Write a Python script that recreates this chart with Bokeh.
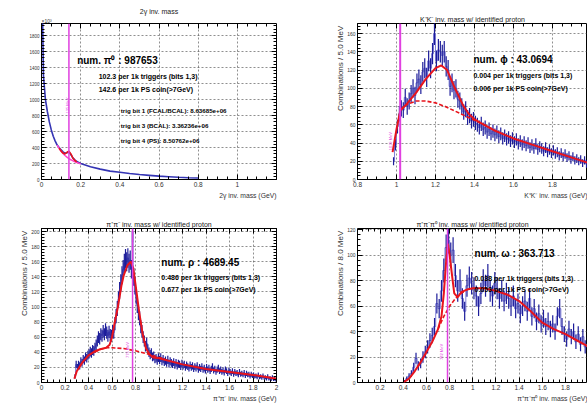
import numpy as np
from bokeh.plotting import figure
from bokeh.models import (LinearAxis, SingleIntervalTicker, PrintfTickFormatter,
                          Label, Span, Range1d, Title)
from bokeh.layouts import row, column
from bokeh.embed import file_html
from bokeh.resources import INLINE

FONT = "Liberation Sans"

# ---------------- Panel 1 : 2 gamma invariant mass (x10^3 counts) ----------------
P1_X = [0.005, 0.01, 0.02, 0.03, 0.04, 0.05, 0.06, 0.07, 0.08, 0.09, 0.10, 0.11, 0.12,
        0.13, 0.14, 0.15, 0.16, 0.17, 0.18, 0.20, 0.25, 0.30, 0.35, 0.40, 0.45, 0.50,
        0.55, 0.60, 0.65, 0.70, 0.75, 0.80]
P1_Y = [2100, 1300, 1000, 850, 720, 620, 540, 480, 430, 400, 370, 345, 330,
        335, 345, 310, 270, 245, 225, 200, 160, 130, 105, 90, 75, 62,
        52, 42, 35, 28, 22, 18]
P1_FIT_X = [0.09, 0.10, 0.11, 0.12, 0.13, 0.14, 0.15, 0.16, 0.17, 0.18]
P1_FIT_Y = [390, 355, 330, 320, 340, 355, 320, 270, 240, 220]
P1_BG_X = [0.08, 0.09, 0.10, 0.11, 0.12, 0.13, 0.14, 0.15, 0.16, 0.18, 0.20]
P1_BG_Y = [430, 390, 355, 325, 300, 280, 262, 247, 235, 212, 195]

# ---------------- Panel 2 : K+K- ----------------
P2_BIN_LO, P2_BIN_W = 0.98, 0.01
P2_COUNTS = [20, 38, 58, 72, 78, 76, 90, 80, 86, 94, 100, 92, 106, 110, 104, 118, 122, 112,
             130, 122, 138, 160, 130, 142, 140, 136, 140, 124, 120, 102, 106, 98, 100, 88,
             86, 80, 74, 77, 68, 70, 64, 66, 62, 60, 57, 61, 55, 57, 52, 55, 50, 53, 49,
             52, 47, 50, 45, 48, 44, 46, 42, 45, 41, 44, 39, 42, 38, 41, 37, 40, 35, 38,
             34, 39, 33, 36, 34, 31, 35, 30, 33, 29, 32, 28, 30, 26, 29, 25, 28, 24, 26,
             22, 25, 21, 23, 20, 22, 18, 21, 17, 19, 16]
P2_FIT_X = [0.98, 1.00, 1.02, 1.05, 1.10, 1.15, 1.20, 1.23, 1.26, 1.30, 1.34, 1.37, 1.40,
            1.45, 1.50, 1.60, 1.70, 1.80, 1.90, 2.00]
P2_FIT_Y = [30, 55, 76, 82, 95, 110, 122, 125, 120, 100, 82, 72, 66, 60, 54, 45, 38, 31, 24, 17]
P2_BG_X = [1.02, 1.05, 1.10, 1.15, 1.20, 1.25, 1.30, 1.35, 1.40, 1.45, 1.50]
P2_BG_Y = [76, 82, 86, 86, 84, 80, 75, 70, 65, 60, 54]

# ---------------- Panel 3 : pi+pi- ----------------
P3_BIN_LO, P3_BIN_W = 0.28, 0.01
P3_COUNTS = [8, 24, 20, 24, 22, 28, 26, 31, 29, 34, 32, 36, 38, 41, 39, 43, 42, 46, 50, 55,
             60, 58, 64, 62, 68, 64, 70, 66, 62, 67, 63,
             62, 68, 66, 78, 88, 98, 110, 122, 132, 142, 150, 158, 164, 160, 165, 158, 162,
             150, 200, 140, 128, 115, 102, 92, 85, 74, 68, 60, 55, 48, 52, 44, 40, 37, 39,
             34, 35, 31, 32, 29, 33,
             30, 33, 28, 31, 27, 29, 26, 30, 25, 28, 26, 24, 27, 23, 26, 22, 25, 24, 21, 25,
             22, 24, 20, 23, 21, 19, 23, 20, 22, 18, 21, 19, 22, 17, 20, 18, 21, 17, 19, 16,
             20, 17, 19, 15, 18, 21, 16, 18, 14, 17, 19, 15, 17, 14, 16, 13, 17, 15, 12, 16,
             14, 12, 15, 11, 14, 12, 13, 10, 14, 11, 12, 10, 13, 9, 12, 10, 11, 8, 11, 9,
             10, 8, 9, 7, 10, 7, 8, 6, 9, 6, 7, 5, 8, 5, 6, 4, 7, 4, 5, 3]
P3_FIT_X = [0.28, 0.30, 0.35, 0.40, 0.45, 0.50, 0.55, 0.58, 0.60, 0.62, 0.65, 0.68, 0.70,
            0.73, 0.76, 0.78, 0.80, 0.83, 0.86, 0.89, 0.92, 0.95, 1.00, 1.20, 1.40, 1.60,
            1.80, 2.00]
P3_FIT_Y = [5, 15, 27, 36, 41, 44, 46, 50, 60, 77, 100, 128, 142, 155, 160, 152, 130, 95,
            65, 45, 37, 33, 32, 24, 18, 14, 10, 5]
P3_BG_X = [0.45, 0.50, 0.55, 0.60, 0.70, 0.80, 0.90, 1.00, 1.05]
P3_BG_Y = [40, 44, 46, 46, 45, 42, 38, 33, 31]

# ---------------- Panel 4 : pi+pi-pi0 ----------------
P4_BIN_LO, P4_BIN_W = 0.40, 0.02
P4_COUNTS = [1, 3, 5, 7, 12, 19, 13, 15, 20, 24, 28, 33, 37, 44, 62, 58, 72, 88, 106, 112,
             100, 104, 84, 72, 80, 66, 56, 76, 82, 78, 74, 68, 60, 70, 80, 76, 84, 72, 68, 78,
             74, 66, 72, 64, 70, 66, 60, 68, 58, 62, 54, 60, 64, 56, 66, 52, 58, 48, 54, 46,
             50, 44, 48, 42, 46, 40, 52, 58, 44, 38, 34, 42, 36, 40, 32, 38, 30, 36, 28, 30]
P4_FIT_X = [0.40, 0.45, 0.50, 0.55, 0.60, 0.65, 0.70, 0.73, 0.75, 0.77, 0.785, 0.80, 0.82,
            0.84, 0.87, 0.90, 0.95, 1.00, 1.10, 1.20, 1.30, 1.40, 1.50, 1.60, 1.70, 1.80,
            1.90, 2.00]
P4_FIT_Y = [0, 3, 9, 16, 24, 32, 42, 52, 70, 95, 109, 100, 85, 70, 67, 71, 73, 74, 74, 72,
            69, 64, 56, 47, 42, 38, 33, 28]
P4_BG_X = [0.70, 0.75, 0.80, 0.85, 0.90, 0.95]
P4_BG_Y = [42, 52, 60, 66, 70, 73]

MASS_LINES = [0.14, 1.019, 0.775, 0.782]
MASS_TEXT = ["135 MeV", "1019 MeV", "775 MeV", "782 MeV"]

BLUE_D = "#1c1c9a"
BLUE_L = "#8080d8"
RED = "#e8141c"
MAG = "#e040e0"


def style_axis(ax, show_labels=True, fs="6px"):
    ax.major_tick_in = 5
    ax.major_tick_out = 0
    ax.minor_tick_in = 3
    ax.minor_tick_out = 0
    ax.axis_line_color = None
    ax.major_tick_line_color = "black"
    ax.minor_tick_line_color = "black"
    ax.major_label_standoff = 2
    ax.formatter = PrintfTickFormatter(format="%.3g")
    ax.major_label_text_font = FONT
    ax.major_label_text_color = "#333333"
    if show_labels:
        ax.major_label_text_font_size = fs
    else:
        ax.major_label_text_font_size = "1px"
        ax.major_label_text_alpha = 0
        ax.major_label_standoff = 0


def side_title(p, text, size, where, align):
    p.add_layout(Title(text=text, align=align, text_font=FONT, text_font_size=size,
                       text_font_style="normal", text_color="#333333", standoff=0,
                       offset=0), where)


def make_fig(w, h, xr, yr, borders, xtick, ytick, title, right_axis=True, yfs="5px"):
    bl, br, bt, bb = borders
    p = figure(width=w, height=h, x_range=Range1d(*xr), y_range=Range1d(*yr),
               output_backend="svg", toolbar_location=None,
               min_border_left=bl, min_border_right=br, min_border_top=bt,
               min_border_bottom=bb)
    p.title.text = title
    p.title.align = "center"
    p.title.text_font = FONT
    p.title.text_font_size = "7px"
    p.title.text_font_style = "normal"
    p.title.text_color = "#222222"
    p.title.standoff = 2
    p.outline_line_color = "black"
    p.outline_line_width = 1
    xt = SingleIntervalTicker(interval=xtick, num_minor_ticks=4)
    yt = SingleIntervalTicker(interval=ytick, num_minor_ticks=5)
    p.xaxis.ticker = xt
    p.yaxis.ticker = yt
    style_axis(p.xaxis[0], True, "6.5px")
    style_axis(p.yaxis[0], True, yfs)
    top = LinearAxis(ticker=xt)
    style_axis(top, False)
    p.add_layout(top, "above")
    if right_axis:
        rt = LinearAxis(ticker=yt)
        style_axis(rt, False)
        p.add_layout(rt, "right")
    p.xgrid[0].ticker = xt
    p.ygrid[0].ticker = yt
    for g in (p.xgrid[0], p.ygrid[0]):
        g.grid_line_color = "#333333"
        g.grid_line_alpha = 0.55
        g.grid_line_dash = "2 2"
        g.grid_line_width = 1
    return p


def add_text(p, x, y, text, size, bold=True, color="black", angle=0.0,
             align="left", baseline="middle"):
    p.add_layout(Label(x=x, y=y, text=text, text_font=FONT, text_font_size=size,
                       text_font_style="bold" if bold else "normal",
                       text_color=color, angle=angle, text_align=align,
                       text_baseline=baseline))


def draw_hist(p, lo, w, counts):
    c = np.array(counts, dtype=float)
    xc = lo + w * (np.arange(len(c)) + 0.5)
    err = np.sqrt(c)
    p.step(xc, c, mode="center", line_color=BLUE_L, line_width=1)
    p.segment(xc, c - err, xc, c + err, line_color=BLUE_D, line_width=1.2)


def draw_fit(p, fx, fy, bx, by):
    p.line(bx, by, line_color=RED, line_width=1.6, line_dash="4 2")
    p.line(fx, fy, line_color=RED, line_width=2)


YT_SIZE = "8px"
XT_SIZE = "6.8px"

# ---- Panel 1
p1 = make_fig(293, 200, (0, 1.2), (0, 1950), (35, 16, 23, 21), 0.2, 200, "2\u03b3 inv. mass",
              yfs="4.5px")
side_title(p1, "\u00d710\u00b3", "5px", "above", "left")
side_title(p1, "2\u03b3 inv. mass (GeV)", XT_SIZE, "below", "right")
p1.add_layout(Span(location=MASS_LINES[0], dimension="height", line_color=MAG, line_width=1.5))
p1.line(P1_X, P1_Y, line_color="#3434b4", line_width=1.6)
p1.line(P1_BG_X, P1_BG_Y, line_color="#ff44cc", line_width=1.5)
p1.line(P1_FIT_X, P1_FIT_Y, line_color=RED, line_width=1.6)
add_text(p1, 0.132, 925, MASS_TEXT[0], "4px", bold=False, color=MAG, angle=np.pi / 2,
         align="center")
add_text(p1, 0.182, 1487, "num. \u03c0\u2070 : 987653", "10px")
add_text(p1, 0.292, 1287, "102.3 per 1k triggers (bits 1,3)", "7px")
add_text(p1, 0.292, 1121, "142.6 per 1k PS coin(>7GeV)", "7px")
add_text(p1, 0.405, 862, "trig bit 1 (FCAL/BCAL): 8.63685e+06", "6.2px")
add_text(p1, 0.405, 675, "trig bit 3 (BCAL): 3.36236e+06", "6.2px")
add_text(p1, 0.405, 487, "trig bit 4 (PS): 8.50762e+06", "6.2px")

# ---- Panel 2
p2 = make_fig(294, 200, (0.8, 1.98), (0, 171), (64, 0, 23, 21), 0.2, 20,
              "K\u207aK\u207b inv. mass w/ identified proton", right_axis=False)
side_title(p2, "Combinations /  5.0 MeV", YT_SIZE, "left", "right")
side_title(p2, "K\u207aK\u207b inv. mass (GeV)", XT_SIZE, "below", "right")
p2.add_layout(Span(location=MASS_LINES[1], dimension="height", line_color=MAG, line_width=2))
draw_hist(p2, P2_BIN_LO, P2_BIN_W, P2_COUNTS)
draw_fit(p2, P2_FIT_X, P2_FIT_Y, P2_BG_X, P2_BG_Y)
add_text(p2, 0.971, 42, MASS_TEXT[1], "4px", bold=False, color=MAG, angle=np.pi / 2,
         align="center")
add_text(p2, 1.395, 131, "num. \u03d5 : 43.0694", "10px")
add_text(p2, 1.395, 114, "0.004 per 1k triggers (bits 1,3)", "7px")
add_text(p2, 1.395, 100, "0.006 per 1k PS coin(>7GeV)", "7px")

# ---- Panel 3
p3 = make_fig(293, 205, (0, 2.0), (0, 204), (41, 17, 28, 23), 0.2, 20,
              "\u03c0\u207a\u03c0\u207b inv. mass w/ identified proton")
side_title(p3, "Combinations /  5.0 MeV", YT_SIZE, "left", "right")
side_title(p3, "\u03c0\u207a\u03c0\u207b inv. mass (GeV)", XT_SIZE, "below", "right")
p3.add_layout(Span(location=MASS_LINES[2], dimension="height", line_color=MAG, line_width=1.5))
draw_hist(p3, P3_BIN_LO, P3_BIN_W, P3_COUNTS)
draw_fit(p3, P3_FIT_X, P3_FIT_Y, P3_BG_X, P3_BG_Y)
add_text(p3, 0.731, 43, MASS_TEXT[2], "4px", bold=False, color=MAG, angle=np.pi / 2,
         align="center")
add_text(p3, 1.02, 159, "num. \u03c1 : 4689.45", "10px")
add_text(p3, 1.02, 139, "0.486 per 1k triggers (bits 1,3)", "7px")
add_text(p3, 1.02, 122.6, "0.677 per 1k PS coin(>7GeV)", "7px")

# ---- Panel 4
p4 = make_fig(294, 205, (0.005, 1.99), (0, 121), (61, 0, 28, 23), 0.2, 20,
              "\u03c0\u207a\u03c0\u207b\u03c0\u2070 inv. mass w/ identified proton",
              right_axis=False)
side_title(p4, "Combinations /  8.0 MeV", YT_SIZE, "left", "right")
side_title(p4, "\u03c0\u207a\u03c0\u207b\u03c0\u2070 inv. mass (GeV)", XT_SIZE, "below", "right")
p4.add_layout(Span(location=MASS_LINES[3], dimension="height", line_color=MAG, line_width=1.5))
draw_hist(p4, P4_BIN_LO, P4_BIN_W, P4_COUNTS)
draw_fit(p4, P4_FIT_X, P4_FIT_Y, P4_BG_X, P4_BG_Y)
add_text(p4, 0.734, 24, MASS_TEXT[3], "4px", bold=False, color=MAG, angle=np.pi / 2,
         align="center")
add_text(p4, 1.015, 101, "num. \u03c9 : 363.713", "10px")
add_text(p4, 1.015, 82, "0.038 per 1k triggers (bits 1,3)", "7px")
add_text(p4, 1.015, 72.8, "0.053 per 1k PS coin(>7GeV)", "7px")

layout = row(column(p1, p3), column(p2, p4))
open("out.html", "w").write(file_html(layout, INLINE))
